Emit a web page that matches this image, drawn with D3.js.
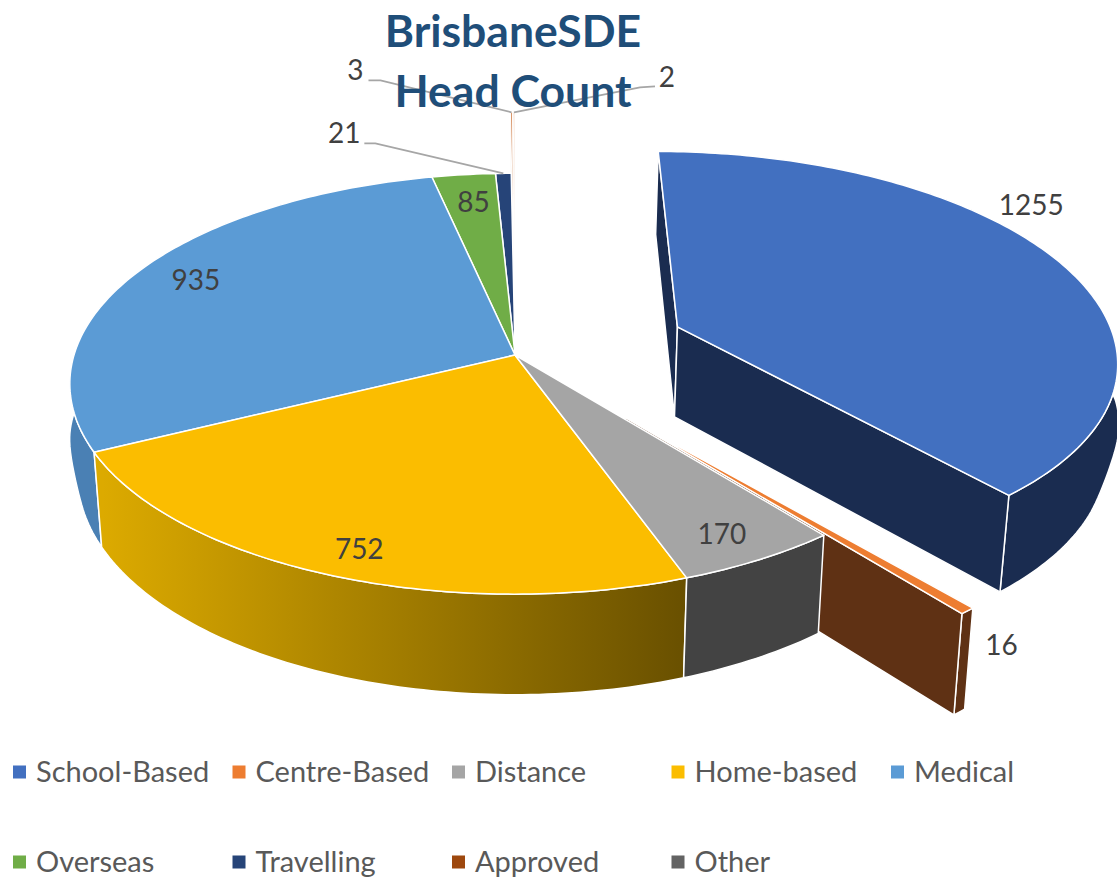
<!DOCTYPE html>
<html lang="en">
  <head>
    <script src="https://d3js.org/d3.v7.min.js"></script>
    <meta charset="utf-8"/>
    <title>BrisbaneSDE Head Count</title>
    <style>
      html, body { margin: 0; background: #fff; }
      svg { display: block; }
      text { font-family: Lato, "Open Sans", sans-serif; }
    </style>
  </head>
  <body>
    <svg id="chart" width="1117" height="877"></svg>

  <script>
  const categories = ["School-Based", "Centre-Based", "Distance", "Home-based", "Medical",
    "Overseas", "Travelling", "Approved", "Other"];
  const headCount = [1255, 16, 170, 752, 935, 85, 21, 3, 2];
  const titleLines = ["BrisbaneSDE", "Head Count"];

  const topColors = ["#4270c0", "#ed7d31", "#a5a5a5", "#fbbd00", "#5b9bd5", "#70ad47", "#264478", "#9e480e", "#636363"];
  const wallColors = ["#1a2c50", "#5f3114", "#434343", "url(#homeWall)", "#4a80b4", "#43682b", "#172a49", "#d9966a", "#d9966a"];
  const explode = [0.4, 0.376, 0, 0, 0, 0, 0, 0.4, 0.4];
  // painted back to front
  const drawOrder = [7, 8, 0, 6, 5, 1, 4, 3, 2];
  // label offset from the slice's outer mid point, then leader line elbow and end
  const labelOffset = [[-27, -56], [34, 34], [-38, -25], [33, -25], [56, 10], [10, 27], [-159, -40], [-156, -42], [153, -35]];
  const leaders = {
    6: [[-128, -30], [-139, -30]],
    7: [[-131, -32], [-143, -32]],
    8: [[126, -25], [141, -26]]
  };

  const cx = 515, cy = 355;
  const svg = d3.select("#chart");

  // plan units -> screen, the pie is tilted so the far side is a bit smaller
  const scaleX = d3.scaleLinear().domain([0, 1]).range([0, 441]);
  const scaleY = d3.scaleLinear().domain([0, 1]).range([0, -206.5]);

  function upper(p) {
    const w = 1 / (1 + 0.1365 * p[1]);
    return [scaleX(p[0]) * w, scaleY(p[1]) * w];
  }
  function lower(p) {
    const t = upper(p);
    return [t[0] * 0.982, t[1] * 1.04 + 91];
  }
  // the rim of the underside swings out and up around the widest part of the pie
  function lowerRim(p) {
    const t = upper(p), l = lower(p);
    const g = Math.exp(-Math.pow(t[1] / 45, 4));
    return [t[0] * (0.982 + 0.02 * g), l[1] - 30 * g];
  }

  const pie = d3.pie().sort(null).value(function(d){ return d; });
  const arcs = pie(headCount);
  const line = d3.line();

  const plot = svg.append("g").attr("transform", "translate(" + cx + "," + cy + ")");

  const grad = svg.append("defs").append("linearGradient")
    .attr("id", "homeWall")
    .attr("gradientUnits", "userSpaceOnUse")
    .attr("x1", -412).attr("x2", 170).attr("y1", 0).attr("y2", 0);
  grad.append("stop").attr("offset", "0%").attr("stop-color", "#dcaa00");
  grad.append("stop").attr("offset", "100%").attr("stop-color", "#695000");

  function offset(i) {
    const a = (arcs[i].startAngle + arcs[i].endAngle) / 2;
    return [explode[i] * Math.sin(a), explode[i] * Math.cos(a)];
  }
  function rim(i) {
    const o = offset(i), d = arcs[i];
    const n = Math.max(2, Math.ceil((d.endAngle - d.startAngle) * 60));
    return d3.range(n + 1).map(function(k){
      const a = d.startAngle + (d.endAngle - d.startAngle) * k / n;
      return [o[0] + Math.sin(a), o[1] + Math.cos(a)];
    });
  }
  function anchor(i) {
    const o = offset(i), a = (arcs[i].startAngle + arcs[i].endAngle) / 2;
    return upper([o[0] + Math.sin(a), o[1] + Math.cos(a)]);
  }

  function face(points, fill, strokeWidth) {
    plot.append("path")
      .attr("d", line(points) + "Z")
      .attr("fill", fill)
      .attr("stroke", "#fff")
      .attr("stroke-width", strokeWidth)
      .attr("stroke-linejoin", "round");
  }

  drawOrder.forEach(function(i){
    const o = offset(i), r = rim(i);
    const first = r[0], last = r[r.length - 1];
    // the two tiny slices only just show through their white edge
    const edge = headCount[i] < 10 ? 1 : 1.5;
    const outer = function(){
      face(r.map(upper).concat(r.slice().reverse().map(lowerRim)), wallColors[i], edge);
    };
    const cut = function(p){
      face([upper(o), upper(p), lower(p), lower(o)], wallColors[i], edge);
    };
    if (explode[i] > 0) {
      // a starting cut on the far side sits in front of the outer wall
      if (Math.cos(arcs[i].startAngle) > 0) {
        outer();
        cut(first);
      } else {
        cut(first);
        outer();
      }
      cut(last);
    } else {
      outer();
    }
    face([upper(o)].concat(r.map(upper)), edge === 1 ? wallColors[i] : topColors[i], edge);
  });

  // leader lines
  Object.keys(leaders).forEach(function(k){
    const p = anchor(+k);
    const pts = [p].concat(leaders[k].map(function(q){ return [p[0] + q[0], p[1] + q[1]]; }));
    plot.append("path")
      .attr("d", line(pts))
      .attr("fill", "none")
      .attr("stroke", "#a6a6a6")
      .attr("stroke-width", 1.8);
  });

  // value labels
  plot.selectAll("text.val")
    .data(headCount)
    .enter()
    .append("text")
      .attr("class", "val")
      .attr("x", function(d, i){ return anchor(i)[0] + labelOffset[i][0]; })
      .attr("y", function(d, i){ return anchor(i)[1] + labelOffset[i][1]; })
      .attr("dy", "0.35em")
      .attr("text-anchor", "middle")
      .attr("font-size", "28px")
      .attr("fill", "#404040")
      .text(function(d){ return d; });

  // title
  svg.selectAll("text.title")
    .data(titleLines)
    .enter()
    .append("text")
      .attr("class", "title")
      .attr("x", 513)
      .attr("y", function(d, i){ return 47 + i * 60; })
      .attr("text-anchor", "middle")
      .attr("font-size", "44.5px")
      .attr("font-weight", "bold")
      .attr("fill", "#1f4e79")
      .text(function(d){ return d; });

  // legend
  const legendX = d3.scalePoint().domain(d3.range(5)).range([13, 891]);
  const legendY = d3.scalePoint().domain(d3.range(2)).range([772, 862]);

  const legend = svg.selectAll("g.legend")
    .data(categories)
    .enter()
    .append("g")
      .attr("class", "legend")
      .attr("transform", function(d, i){
        return "translate(" + legendX(i % 5) + "," + legendY(Math.floor(i / 5)) + ")";
      });

  legend.append("rect")
    .attr("y", -6.5)
    .attr("width", 13)
    .attr("height", 13)
    .attr("fill", function(d, i){ return topColors[i]; });

  legend.append("text")
    .attr("x", 23)
    .attr("dy", "0.35em")
    .attr("font-size", "29px")
    .attr("fill", "#595959")
    .text(function(d){ return d; });
  </script>
  </body>
</html>
